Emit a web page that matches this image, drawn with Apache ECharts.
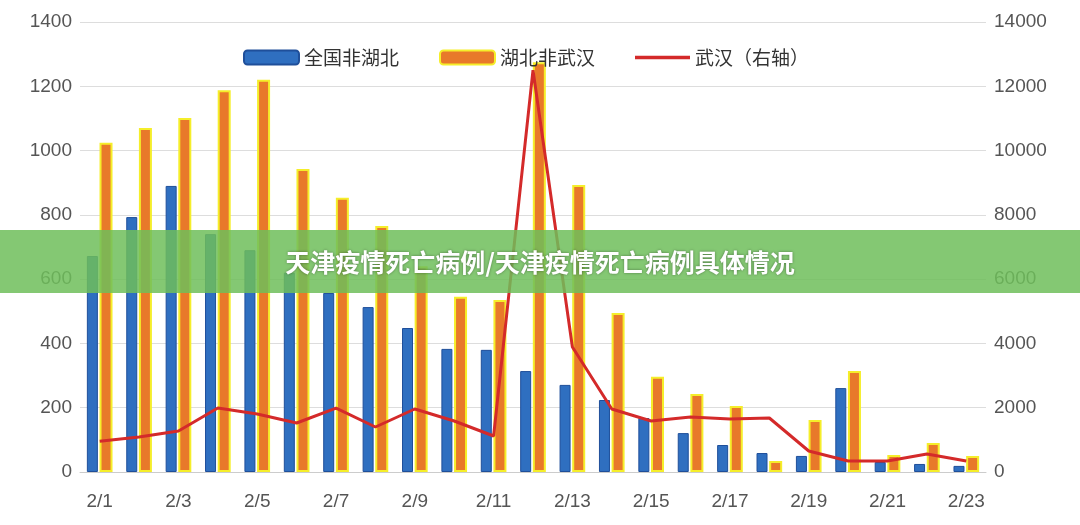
<!DOCTYPE html>
<html>
<head>
<meta charset="utf-8">
<script src="https://cdn.jsdelivr.net/npm/echarts@6/dist/echarts.min.js"></script>
<style>
html,body{margin:0;padding:0;background:#fff;}
#main{width:1080px;height:525px;}
#banner{position:absolute;left:0;top:230px;width:1080px;height:63px;background:rgba(110,190,90,0.85);
color:#fff;font:bold 25px "Noto Sans CJK SC",sans-serif;text-align:center;line-height:63px;text-shadow:0 0 3px rgba(0,0,0,0.4);}
</style>
</head>
<body>
<div id="main"></div>
<div id="banner">天津疫情死亡病例/天津疫情死亡病例具体情况</div>
<script>
// 日期
const categories = ['2/1','2/2','2/3','2/4','2/5','2/6','2/7','2/8','2/9','2/10','2/11','2/12','2/13','2/14','2/15','2/16','2/17','2/18','2/19','2/20','2/21','2/22','2/23'];
// 全国非湖北
const nonHubei = [672,793,890,740,690,620,557,513,448,383,380,314,271,224,168,121,84,59,50,261,31,25,19];
// 湖北非武汉
const hubeiNonWuhan = [1024,1070,1101,1188,1220,943,853,765,640,545,535,1275,893,495,296,243,205,34,162,314,53,90,50];
// 武汉（右轴）
const wuhan = [960,1090,1276,1990,1805,1525,1990,1400,1960,1587,1120,12500,3890,1960,1587,1711,1650,1680,653,342,342,560,342];

const myChart = echarts.init(document.getElementById('main'));
const axisLabel = { color: '#555', fontSize: 19, fontFamily: 'Arial, "Liberation Sans"', formatter: (v) => String(v) };
myChart.setOption({
    animation: false,
    textStyle: { fontFamily: '"Noto Sans CJK SC", sans-serif' },
    legend: {
        top: 43, left: 238, itemGap: 40, itemWidth: 55, itemHeight: 14,
        textStyle: { fontSize: 19, color: '#333' },
        data: [
            { name: '全国非湖北' },
            { name: '湖北非武汉' },
            { name: '武汉（右轴）', icon: 'path://M0,0L20,0L20,1.2L0,1.2Z' }
        ]
    },
    grid: { left: 80, right: 94, top: 22, bottom: 53 },
    xAxis: {
        type: 'category', data: categories,
        axisTick: { show: false },
        axisLine: { lineStyle: { color: '#ccc' } },
        axisLabel: { color: '#555', fontSize: 19, fontFamily: 'Arial, "Liberation Sans"', interval: 1, margin: 20 }
    },
    yAxis: [
        { type: 'value', min: 0, max: 1400, interval: 200, axisLabel: axisLabel,
          splitLine: { lineStyle: { color: '#ddd' } } },
        { type: 'value', min: 0, max: 14000, interval: 2000, axisLabel: axisLabel,
          splitLine: { show: false } }
    ],
    series: [
        { name: '全国非湖北', type: 'bar', data: nonHubei, barWidth: 11, barGap: '15%',
          itemStyle: { color: '#2f6fc0', borderColor: '#1f4f9a', borderWidth: 1 } },
        { name: '湖北非武汉', type: 'bar', data: hubeiNonWuhan, barWidth: 13,
          itemStyle: { color: '#e8792a', borderColor: '#f5ee2a', borderWidth: 2 } },
        { name: '武汉（右轴）', type: 'line', yAxisIndex: 1, data: wuhan, symbol: 'none',
          lineStyle: { color: '#d42a2a', width: 3 }, itemStyle: { color: '#d42a2a' } }
    ]
});
</script>
</body>
</html>
